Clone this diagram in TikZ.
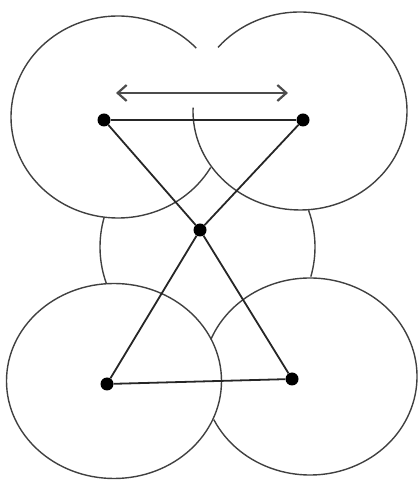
\documentclass[tikz,border=0pt]{standalone}
\usetikzlibrary{arrows.meta}
\begin{document}
\begin{tikzpicture}[x=1pt,y=1pt,
  ring/.style={draw=black!75,line width=1.4pt},
  edge/.style={draw=black!85,line width=1.8pt},
  dot/.style={circle,fill=black,inner sep=0pt,minimum size=13pt},
  dbl/.style={draw=black!70,line width=2.2pt,{Straight Barb[length=9pt,width=16pt]}-{Straight Barb[length=9pt,width=16pt]}}]
\useasboundingbox (0,0) rectangle (417,481);
% circles (arcs)
\draw[ring] (118,364) ++(43:107 and 101) arc[start angle=43,end angle=330,x radius=107,y radius=101];
\draw[ring] (300,370) ++(178:107 and 99) arc[start angle=178,end angle=500,x radius=107,y radius=99];
\draw[ring] (207.5,234) ++(164:107.5) arc[start angle=164,end angle=200,radius=107.5];
\draw[ring] (207.5,234) ++(-16:107.5) arc[start angle=-16,end angle=20,radius=107.5];
\draw[ring] (114,100) ellipse[x radius=107.5,y radius=97.5];
\draw[ring] (310,104.5) ++(206:107 and 98.5) arc[start angle=206,end angle=518,x radius=107,y radius=98.5];
% dots
\node[dot] (A) at (104,361) {};
\node[dot] (B) at (303,361) {};
\node[dot] (C) at (200,251) {};
\node[dot] (D) at (107,97) {};
\node[dot] (E) at (292,102) {};
% edges
\draw[edge] (A) -- (B);
\draw[edge] (A) -- (C);
\draw[edge] (B) -- (C);
\draw[edge] (C) -- (D);
\draw[edge] (C) -- (E);
\draw[edge] (D) -- (E);
% arrow
\coordinate (al) at (116,388);
\coordinate (ar) at (288,388);
\draw[dbl] (al) -- (ar);
\end{tikzpicture}
\end{document}
